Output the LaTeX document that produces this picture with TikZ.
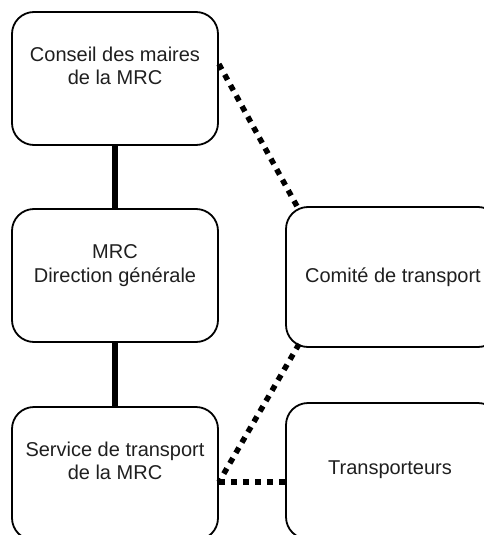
\documentclass[tikz,border=0pt]{standalone}
\usepackage{fontspec}
\setmainfont{Liberation Sans}
\usetikzlibrary{calc}
\begin{document}
\begin{tikzpicture}[x=1pt,y=-1pt,
  box/.style={draw=black, line width=1.8pt, rounded corners=22pt, minimum width=#1, inner sep=0pt},
  txt/.style={anchor=base, inner sep=0pt, font=\fontsize{20pt}{22pt}\selectfont, text=black!88},
  solidlink/.style={line width=5.5pt},
  dotlink/.style={line width=5.5pt, dash pattern=on 6pt off 6pt}]
\useasboundingbox (0,0) rectangle (484,535);
% boxes
\node[box=206pt, minimum height=133pt] (b1) at (115,78.5) {};
\node[box=206pt, minimum height=133pt] (b2) at (115,275.5) {};
\node[box=206pt, minimum height=133pt] (b3) at (115,473.5) {};
\node[box=214pt, minimum height=140pt] (b4) at (393,277) {};
\node[box=214pt, minimum height=136pt] (b5) at (393,471) {};
% texts
\node[txt] (t1a) at (115,62) {Conseil des maires};
\node[txt] (t1b) at (115,84) {de la MRC};
\node[txt] (t2a) at (115,258) {MRC};
\node[txt] (t2b) at (115,282) {Direction générale};
\node[txt] (t3a) at (115,456) {Service de transport};
\node[txt] (t3b) at (115,479) {de la MRC};
\node[txt] (t4) at (393,282) {Comité de transport};
\node[txt] (t5) at (390,474) {Transporteurs};
% connector end points
\coordinate (p1) at ($(b1.north east)+(0,53)$);
\coordinate (p4a) at ($(b4.north west)+(14,4)$);
\coordinate (p4b) at ($(b4.south west)+(14,-4)$);
\coordinate (p3) at ($(b3.north east)+(0,76)$);
\coordinate (p5) at (b5.west |- p3);
% connectors
\draw[solidlink] (b1.south) -- (b2.north);
\draw[solidlink] (b2.south) -- (b3.north);
\draw[dotlink] (p1) -- (p4a);
\draw[dotlink] (p4b) -- (p3);
\draw[dotlink] (p3) -- (p5);
\end{tikzpicture}
\end{document}
